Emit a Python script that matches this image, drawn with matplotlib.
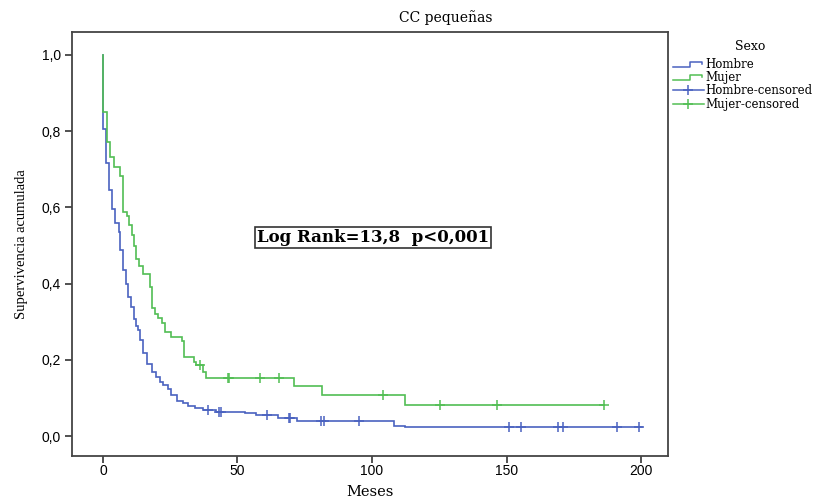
import numpy as np
import matplotlib
matplotlib.use('Agg')
import matplotlib.pyplot as plt
from matplotlib.lines import Line2D
from matplotlib.legend_handler import HandlerLine2D
from matplotlib.ticker import FuncFormatter

# Kaplan-Meier steps (time in months, survival after the step)
hombre_t = [0, 1.2, 2.3, 3.5, 4.6, 5.9, 6.5, 7.5, 8.4, 9.2, 10.4, 11.5, 12.3, 13.1,
            13.8, 15.0, 16.5, 18.1, 19.6, 21.2, 22.4, 24.3, 25.2, 27.4, 29.6, 31.7,
            34.2, 37.3, 42.0, 52.8, 57.0, 65.0, 72.0, 108.0, 112.3]
hombre_s = [0.806, 0.717, 0.646, 0.596, 0.559, 0.536, 0.488, 0.436, 0.40, 0.366, 0.340,
            0.306, 0.290, 0.278, 0.252, 0.218, 0.188, 0.169, 0.156, 0.143, 0.134, 0.125,
            0.108, 0.092, 0.086, 0.079, 0.073, 0.068, 0.064, 0.061, 0.055, 0.047, 0.040,
            0.027, 0.023]
hombre_cens = [39.1, 43.3, 43.8, 61.0, 69.0, 69.6, 81.2, 82.0, 95.0,
               151.0, 155.3, 169.3, 171.1, 191.2, 199.3]
hombre_end = 200.5

mujer_t = [0, 1.4, 2.6, 4.1, 6.3, 7.3, 8.8, 9.6, 10.7, 11.5, 12.3, 13.5, 15.0, 17.4,
           18.3, 19.3, 20.5, 22.0, 23.0, 25.2, 29.2, 30.1, 33.8, 34.6, 37.0, 38.3,
           71.1, 81.3, 112.3]
mujer_s = [0.85, 0.771, 0.733, 0.707, 0.682, 0.589, 0.578, 0.554, 0.528, 0.50, 0.465,
           0.447, 0.425, 0.39, 0.336, 0.32, 0.31, 0.297, 0.274, 0.26, 0.25, 0.207, 0.195,
           0.186, 0.169, 0.153, 0.131, 0.109, 0.081]
mujer_cens = [36.0, 46.3, 47.0, 58.4, 65.4, 104.2, 125.3, 146.4, 186.4]
mujer_end = 186.4

groups = ['Hombre', 'Mujer']
colors = ['#4a62c0', '#52be54']

serif = 'DejaVu Serif'
sans = 'Liberation Sans'


def step_xy(times, surv, end):
    xs = [0.0]
    ys = [1.0]
    prev = 1.0
    for t, s in zip(times, surv):
        xs += [t, t]
        ys += [prev, s]
        prev = s
    xs.append(end)
    ys.append(prev)
    return xs, ys


def surv_at(times, surv, c):
    idx = np.searchsorted(times, c, side='right') - 1
    return surv[idx] if idx >= 0 else 1.0


class StepHandler(HandlerLine2D):
    def create_artists(self, legend, orig_handle, xdescent, ydescent, width, height,
                       fontsize, trans):
        lo = height * 0.15 - ydescent
        hi = height * 0.75 - ydescent
        x0 = -xdescent
        xs = [x0, x0 + 0.55 * width, x0 + 0.55 * width, x0 + 0.95 * width, x0 + 0.95 * width]
        ys = [lo, lo, hi, hi, hi - 0.35 * (hi - lo)]
        line = Line2D(xs, ys, color=orig_handle.get_color(), lw=1.1)
        line.set_transform(trans)
        return [line]


fig = plt.figure(figsize=(8.25, 5), dpi=100)
ax = fig.add_axes([72 / 825, 44 / 500, 596 / 825, 424 / 500])

data = [(hombre_t, hombre_s, hombre_cens, hombre_end),
        (mujer_t, mujer_s, mujer_cens, mujer_end)]
for (t, s, cens, end), col in zip(data, colors):
    xs, ys = step_xy(t, s, end)
    ax.plot(xs, ys, color=col, lw=1.2, solid_joinstyle='miter')
    cy = [surv_at(t, s, c) for c in cens]
    ax.plot(cens, cy, ls='none', marker='+', ms=7, mew=1.1, color=col)

ax.set_xlim(-11.5, 210)
ax.set_ylim(-0.052, 1.06)
ax.set_xticks([0, 50, 100, 150, 200])
ax.set_yticks([0, 0.2, 0.4, 0.6, 0.8, 1.0])
ax.yaxis.set_major_formatter(FuncFormatter(lambda v, p: f'{v:.1f}'.replace('.', ',')))
for lab in ax.get_xticklabels() + ax.get_yticklabels():
    lab.set_fontfamily(sans)
    lab.set_fontsize(10)
ax.tick_params(direction='out', length=5, width=1.2, color='#333333')
ax.tick_params(axis='x', pad=0.5)
ax.tick_params(axis='y', pad=3)
for sp in ax.spines.values():
    sp.set_linewidth(1.3)
    sp.set_color('#444444')

ax.set_xlabel('Meses', fontfamily=serif, fontsize=10.5, labelpad=5)
ax.set_ylabel('Supervivencia acumulada', fontfamily='Liberation Serif', fontsize=10.5,
              labelpad=10)
fig.text(446 / 825, 1 - 18 / 500, 'CC pequeñas', fontfamily=serif, fontsize=10,
         ha='center', va='center')

ax.text(100.4, 0.522, 'Log Rank=13,8  p<0,001', fontfamily=serif, fontsize=12,
        fontweight='bold', ha='center', va='center',
        bbox=dict(boxstyle='square,pad=0.12', fc='white', ec='#333333', lw=1.2))

# legend title placed separately to get the gap seen in the original
fig.text(750 / 825, 1 - 46 / 500, 'Sexo', fontfamily=serif, fontsize=9,
         ha='center', va='center')
handles = [Line2D([], [], color=colors[0]), Line2D([], [], color=colors[1]),
           Line2D([], [], color=colors[0], marker='+', ms=7, mew=1.1, lw=1.1),
           Line2D([], [], color=colors[1], marker='+', ms=7, mew=1.1, lw=1.1)]
labels = ['Hombre', 'Mujer', 'Hombre-censored', 'Mujer-censored']
leg = fig.legend(handles, labels, loc='upper left', bbox_to_anchor=(673 / 825, 1 - 58 / 500),
                 frameon=False, handlelength=2.6, handletextpad=0.15,
                 labelspacing=0.02, borderaxespad=0, borderpad=0,
                 prop={'family': serif, 'size': 8.5},
                 handler_map={handles[0]: StepHandler(), handles[1]: StepHandler()})

fig.savefig('out.png', dpi=100)
